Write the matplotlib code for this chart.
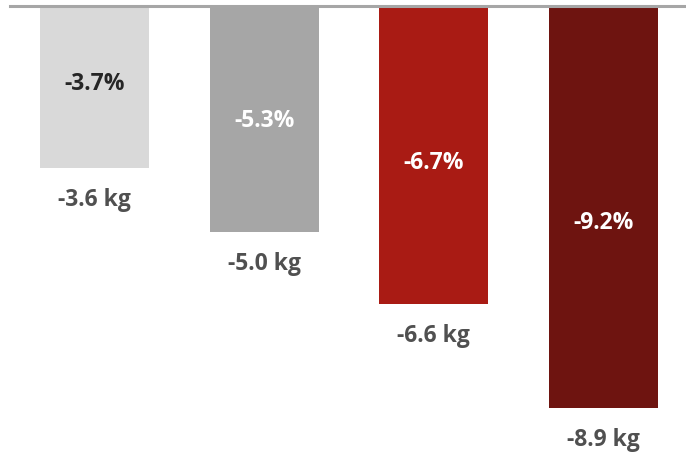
import matplotlib
matplotlib.use("Agg")
import matplotlib.pyplot as plt
import numpy as np

plt.rcParams['font.family'] = ['Open Sans', 'DejaVu Sans']

# weight change per group
kg_change = [-3.6, -5.0, -6.6, -8.9]
pct_change = [-3.7, -5.3, -6.7, -9.2]
bar_colors = ['#d9d9d9', '#a6a6a6', '#a91b14', '#6e1410']
pct_colors = ['#262626', '#ffffff', '#ffffff', '#ffffff']

fig = plt.figure(figsize=(6.86, 4.54), dpi=100)
ax = fig.add_axes([0, 0, 1, 1])

x = np.arange(len(kg_change))
ax.bar(x, kg_change, width=0.643, color=bar_colors, zorder=2)

# zero line along the top
ax.axhline(0, xmin=0.014, xmax=1, color='#a6a6a6', lw=2.2, zorder=3)

for i, (kg, pct) in enumerate(zip(kg_change, pct_change)):
    # percent inside the bar, kg underneath
    ax.text(i, 0.58 * kg + 0.35, f'{pct:.1f}%', ha='center', va='center',
            fontsize=16.5, fontweight='bold', color=pct_colors[i])
    ax.annotate(f'{kg:.1f} kg', (i, kg), xytext=(0, -32),
                textcoords='offset pixels', ha='center', va='center',
                fontsize=16.5, fontweight='bold', color='#505050')

ax.set_xlim(-0.5575, 3.487)
ax.set_ylim(-9.93, 0.133)
ax.axis('off')

fig.savefig('out.png', dpi=100)
